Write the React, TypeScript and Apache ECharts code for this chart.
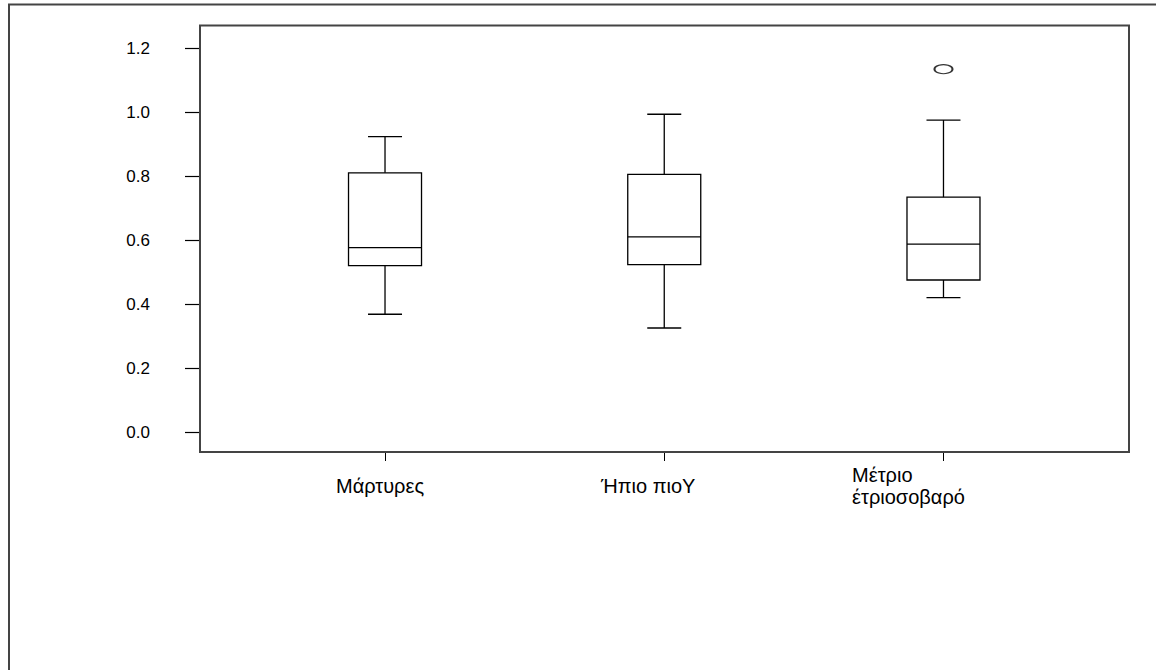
import React, { useEffect, useRef } from "react";
import * as echarts from "echarts";

const categories = ["Μάρτυρες", "Ήπιο πιοΥ", "Μέτριο\nέτριοσοβαρό"];
const lowWhisker = [0.368, 0.325, 0.42];
const q1 = [0.52, 0.523, 0.475];
const median = [0.576, 0.61, 0.587];
const q3 = [0.81, 0.805, 0.734];
const highWhisker = [0.923, 0.993, 0.975];
const outliers: [number, number][] = [[2, 1.134]];
const yTicks = [0, 0.2, 0.4, 0.6, 0.8, 1.0, 1.2];

const FONT = "'Liberation Sans', Arial, sans-serif";

export default function App() {
  const ref = useRef<HTMLDivElement>(null);
  useEffect(() => {
    if (!ref.current) return;
    const chart = echarts.init(ref.current, null, { renderer: "svg" });
    const boxData = categories.map((_, i) => [i, lowWhisker[i], q1[i], median[i], q3[i], highWhisker[i]]);
    const option: any = {
      animation: false,
      backgroundColor: "#ffffff",
      grid: { left: 245.4, right: 72.9, top: 25, bottom: 218, containLabel: false, outerBoundsMode: "none" },
      xAxis: {
        type: "category",
        data: categories,
        boundaryGap: true,
        axisLine: { show: false, onZero: false },
        axisTick: { show: true, alignWithLabel: true, length: 9, lineStyle: { color: "#000", width: 1 } },
        splitLine: { show: false },
        axisLabel: {
          margin: 34,
          verticalAlign: "middle",
          fontFamily: FONT,
          fontSize: 20,
          color: "#000",
          formatter: (value: string, index: number) => {
            if (index === 0) return `{a|${value}}`;
            if (index === 1) return `{b|${value}}`;
            return value
              .split("\n")
              .map((s) => `{c|${s}}`)
              .join("\n");
          },
          rich: {
            a: { fontFamily: FONT, fontSize: 20, color: "#000", padding: [0, 10, 0, 0] },
            b: { fontFamily: FONT, fontSize: 20, color: "#000", padding: [0, 32, 0, 0] },
            c: { fontFamily: FONT, fontSize: 20, color: "#000", align: "left", lineHeight: 22, padding: [0, 70, 0, 0] },
          },
        },
      },
      yAxis: {
        type: "value",
        min: -0.0625,
        max: 1.272,
        offset: 45.4,
        axisLine: { show: false },
        splitLine: { show: false },
        axisTick: {
          show: true,
          inside: false,
          length: 15,
          customValues: yTicks,
          lineStyle: { color: "#000", width: 1.2 },
        },
        axisLabel: {
          customValues: yTicks,
          margin: 50,
          fontFamily: FONT,
          fontSize: 17,
          color: "#000",
          formatter: (v: number) => v.toFixed(1),
        },
      },
      graphic: [
        {
          type: "rect",
          silent: true,
          shape: { x: 9, y: 4.5, width: 1400, height: 900 },
          style: { fill: "none", stroke: "#444", lineWidth: 2 },
          z: 0,
        },
        {
          type: "rect",
          silent: true,
          shape: { x: 200, y: 25.5, width: 929, height: 426.5 },
          style: { fill: "none", stroke: "#444", lineWidth: 2 },
          z: 10,
        },
      ],
      series: [
        {
          type: "custom",
          data: boxData,
          encode: { x: 0, y: [1, 2, 3, 4, 5] },
          renderItem: (params: any, api: any) => {
            const idx = api.value(0);
            const lo = api.coord([idx, api.value(1)]);
            const b1 = api.coord([idx, api.value(2)]);
            const md = api.coord([idx, api.value(3)]);
            const b3 = api.coord([idx, api.value(4)]);
            const hi = api.coord([idx, api.value(5)]);
            const cx = lo[0];
            const hw = 36.5;
            const cw = 17;
            const ls = { stroke: "#000", lineWidth: 1.3, fill: "none" };
            return {
              type: "group",
              children: [
                { type: "rect", shape: { x: cx - hw, y: b3[1], width: hw * 2, height: b1[1] - b3[1] }, style: { ...ls, fill: "#fff" } },
                { type: "line", shape: { x1: cx - hw, y1: md[1], x2: cx + hw, y2: md[1] }, style: ls },
                { type: "line", shape: { x1: cx, y1: b3[1], x2: cx, y2: hi[1] }, style: ls },
                { type: "line", shape: { x1: cx, y1: b1[1], x2: cx, y2: lo[1] }, style: ls },
                { type: "line", shape: { x1: cx - cw, y1: hi[1], x2: cx + cw, y2: hi[1] }, style: ls },
                { type: "line", shape: { x1: cx - cw, y1: lo[1], x2: cx + cw, y2: lo[1] }, style: ls },
              ],
            };
          },
        },
        {
          type: "scatter",
          data: outliers,
          symbol: "circle",
          symbolSize: [18, 9],
          itemStyle: { color: "#fff", borderColor: "#000", borderWidth: 1.5 },
        },
      ],
    };
    chart.setOption(option);
    return () => chart.dispose();
  }, []);
  return (
    <div
      ref={ref}
      style={{ position: "fixed", left: 0, top: 0, width: 1156, height: 670 }}
    />
  );
}
